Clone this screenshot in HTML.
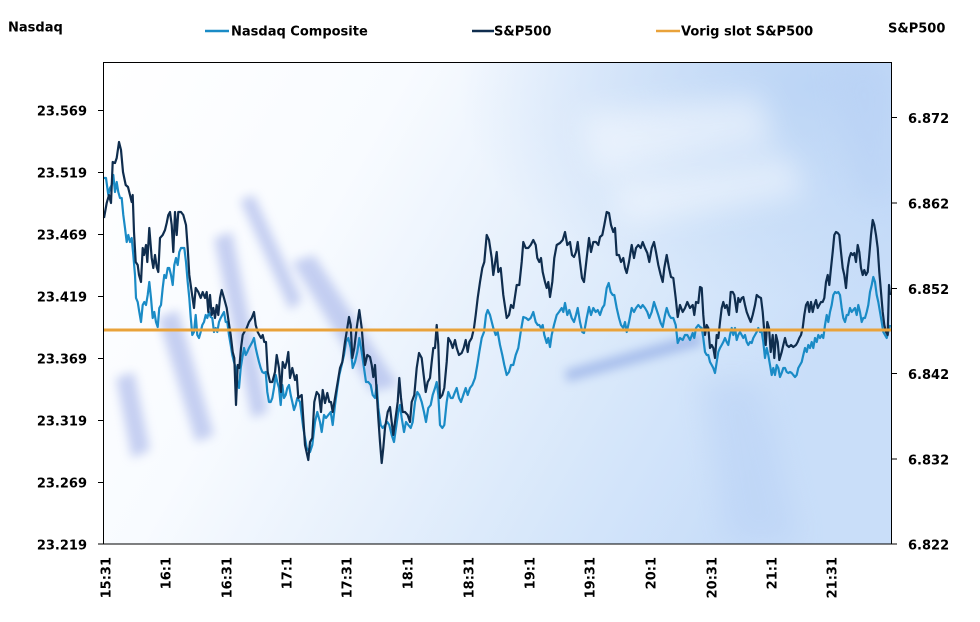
<!DOCTYPE html>
<html><head><meta charset="utf-8"><style>
html,body{margin:0;padding:0;background:#fff;}
svg{display:block;}
text{font-family:"DejaVu Sans","Liberation Sans",sans-serif;font-weight:bold;font-size:13px;fill:#000;}
</style></head><body>
<svg width="980" height="622" viewBox="0 0 980 622" xmlns="http://www.w3.org/2000/svg">
<defs>
<linearGradient id="bg" x1="0" y1="0" x2="1" y2="0.35">
<stop offset="0" stop-color="#ffffff"/>
<stop offset="0.35" stop-color="#f8fbff"/>
<stop offset="0.6" stop-color="#e6f0fc"/>
<stop offset="0.82" stop-color="#d5e6fa"/>
<stop offset="1" stop-color="#c9def9"/>
</linearGradient>
<radialGradient id="tr" cx="0.9" cy="0.05" r="0.45">
<stop offset="0" stop-color="#b9d3f5" stop-opacity="0.9"/>
<stop offset="1" stop-color="#b9d3f5" stop-opacity="0"/>
</radialGradient>
<filter id="bl" x="-20%" y="-20%" width="140%" height="140%"><feGaussianBlur stdDeviation="5"/></filter>
<filter id="bl2" x="-30%" y="-30%" width="160%" height="160%"><feGaussianBlur stdDeviation="14"/></filter>
<clipPath id="pc"><rect x="104" y="62" width="787" height="482"/></clipPath>
</defs>
<rect width="980" height="622" fill="#fff"/>
<g clip-path="url(#pc)">
<rect x="104" y="62" width="787" height="482" fill="url(#bg)"/>
<rect x="104" y="62" width="787" height="482" fill="url(#tr)"/>
<g filter="url(#bl2)" fill="#ffffff" opacity="0.45">
<polygon points="580,115 760,95 775,145 595,175"/>
<polygon points="610,185 790,155 805,195 625,225"/>
</g>
<g filter="url(#bl)" fill="#a9b7ea" opacity="0.65">
<polygon points="116,378 134,372 150,450 132,458"/>
<polygon points="158,318 178,310 214,435 196,442"/>
<polygon points="214,238 232,232 268,412 252,418"/>
<polygon points="240,200 254,195 302,300 290,310"/>
<polygon points="292,262 314,255 398,385 372,392"/>
</g>
<g filter="url(#bl)" fill="#7f9be0" opacity="0.55">
<polygon points="565,370 700,333 702,345 567,382"/>
</g>
<g filter="url(#bl2)" fill="#b6cff4" opacity="0.45">
<polygon points="700,380 760,380 800,544 730,544"/>
<polygon points="830,62 891,62 891,200 860,200"/>
</g>
</g>
<!-- Nasdaq -->
<polyline fill="none" stroke="#1a8bc6" stroke-width="2.2" stroke-linejoin="round" points="104,178 106,178 108.3,195 110,188 111.7,185 113.3,175 115,192 116.7,182 118.3,192 120,198 121.7,198 123.3,215 125,228 126.7,242 128.3,235 130,242 131.7,238 133.3,255 135,275 136,298 137.7,302 139.3,312 141,322 142.7,305 144.3,302 146,305 147.7,295 149.3,282 151,298 152.7,318 154.3,312 156,322 157.7,327 159.3,308 161,305 162.7,288 164.3,275 166,278 167.7,268 169.3,268 171,275 172.7,285 174.3,265 176,258 177.7,265 179.3,252 181,248 182.7,248 184.3,248 186,262 187.7,282 189.3,298 190.7,317 192.3,335 194,332 195.7,315 197.3,335 199,338 200.7,332 202.3,325 204,322 205.7,315 207.3,318 209,312 210.7,317 212.3,318 214,332 215.7,328 217.3,332 219,322 220.7,318 222.3,315 224,312 225.7,322 227.3,322 229,335 230.7,345 232.3,355 234,362 235.7,368 237.3,382 239,388 240.7,368 242.3,358 244,348 245.7,355 247.3,352 249,348 250.7,345 252.3,342 254,338 255.7,348 257.3,355 259,362 260.7,368 262.3,372 264,373 265.7,372 267.3,392 269,402 270.7,402 272.3,398 274,388 275.7,375 277.3,382 279,388 280.7,405 282.3,385 284,398 285.7,395 287.3,388 289,385 290.7,395 292.3,402 294,410 295.7,405 297.3,398 300,402 303.3,428 306.7,448 310,452 312.3,445 315,422 317.3,412 320,422 321.7,432 324,415 326,418 328.3,415 330.7,412 332.7,425 335,405 337.3,388 339.3,375 341.7,365 344,355 346,342 348.3,338 350.7,348 352.7,368 355,362 357.3,352 359.3,338 361.7,352 364,368 366,382 368.3,382 370.7,385 372.7,395 375,398 376.7,385 378.3,408 380.7,425 382.7,428 385,425 387.3,422 389.3,425 391.7,435 394,442 396,428 398.3,412 400,405 401.7,418 404,432 406,422 408.3,425 410.7,428 412.7,422 415,402 417.3,392 419.3,395 421.7,402 424,412 426,422 428.3,408 430.7,405 432.7,395 435,388 436.7,382 438.3,395 440,425 442.3,428 444.3,425 446.7,402 448.3,392 450.7,398 452.7,398 455,392 456.7,388 459,398 461,402 463.3,395 465.7,388 467.7,395 470,388 472.3,385 475,378 477.3,365 479.3,352 481.7,338 484,332 486,315 487.7,310 490,315 493.3,328 495.7,335 497.7,332 500,345 502.3,355 504.3,365 506.7,375 509,372 511,365 513.3,365 515.7,355 518.3,348 520.7,332 523.3,317 526,318 528.3,320 530.7,318 533.3,312 535.7,322 537.7,325 539.3,325 541,328 542.7,325 544.3,335 546.7,343 548.3,338 550,347 551.7,335 554,325 556.7,315 559,312 561.7,308 563.3,312 565,303 567.3,315 569.3,310 571.7,318 574,322 576,315 577.7,308 580,322 582.3,332 584,333 586.7,318 589,307 591,315 593.3,308 595.7,312 597.7,310 600,315 602.3,308 604.3,305 606.7,288 608.7,283 610.7,292 612.7,295 614.3,295 616.7,308 619,318 621,325 623.3,328 625,322 626.7,332 629,322 631.7,308 634,312 636,308 638.3,305 640.7,308 642.7,305 645,308 647.3,312 649.3,318 651.7,312 654,302 656,308 658.3,315 660.7,323 662.7,327 665,315 666.7,308 669,315 671,318 673.3,318 675.7,325 677.7,343 680,338 682.7,340 685,335 687.3,335 690,340 692.7,333 694.3,338 696,328 698.3,325 700,327 701.7,328 703.3,338 705,352 706.7,355 708.3,355 710,362 711.7,365 713.3,368 715,373 716.7,362 718.3,352 720,348 721.7,345 723.3,342 725,338 726.7,342 728.3,345 730,335 731.7,328 733.3,335 735,328 736.7,340 738.3,335 740,332 741.7,335 743.3,338 745,335 746.7,342 748.3,345 750,342 751.7,343 753.3,338 755,335 756.7,332 758.3,328 760,332 761.7,332 763.3,342 765,358 766.7,348 768.3,355 770,365 771.7,375 773.3,368 775,375 776.7,365 778.3,368 780,377 781.7,373 783.3,368 785,368 786.7,372 788.3,373 790,372 791.7,373 793.3,375 795,377 796.7,375 798.3,368 800,365 801.7,362 803.3,355 805,348 806.7,352 808.3,345 810,348 811.7,342 813.3,348 815,338 816.7,342 818.3,335 820,338 821.7,335 823.3,338 825,325 826.7,315 828.3,322 830,312 831.7,305 833.3,295 835,292 836.7,293 838.3,292 840,295 841.7,308 843.3,318 845,322 846.7,315 848.3,315 850,308 851.7,312 853.3,310 855,308 856.7,315 858.3,305 860,312 861.7,322 863.3,318 865,318 866.7,312 868.3,305 870,292 871.7,285 873.3,277 875,282 876.7,295 878.3,302 880,312 881.7,322 883.3,332 885,335 886.7,338 888.3,332 890,325"/>
<!-- S&P500 -->
<polyline fill="none" stroke="#0f2d4e" stroke-width="2.2" stroke-linejoin="round" points="104,218 106.7,203 109,195 111,203 112.7,162 115,163 116.7,158 119,142 121,150 123,172 125.7,185 128,187 130,195 131.7,202 132.7,195 134,232 135.7,262 137.7,265 139,275 141,282 142.7,248 144,255 146,245 147.3,262 149.3,228 151.7,258 153.3,268 155,255 156.7,267 158.3,272 160,238 162.7,235 165,230 166.7,223 168.3,215 170,212 171.7,225 173.3,252 175,212 176.7,235 178.3,212 181,212 183.3,215 186,225 187.7,248 189.3,275 191.7,292 194,308 195.7,288 198.3,292 200.7,298 202.7,292 205,298 206.7,292 208.3,312 210,295 211.7,315 213.3,308 215,318 216.7,305 218.3,315 220,298 221.7,290 224,298 226.7,308 228.7,322 230.7,335 232.7,352 234.3,358 236,405 237.7,365 239.3,368 241,348 242.7,335 244.3,332 246.7,328 249,322 251.7,318 254,312 255.7,325 257.7,332 259.3,335 261,338 262.7,335 264.3,342 266,342 267.7,372 270,382 272.3,382 275,372 276.7,355 279,368 281,392 282.7,362 285,368 286.7,362 288.3,352 290,378 292.3,368 295,380 296.7,375 298.3,398 301.7,395 305,445 308.3,460 310,442 312.3,438 314.3,402 316.7,392 319,395 321,412 322.7,390 325,403 327.3,393 329.3,402 331,402 332.7,412 335,398 337.7,382 340,368 342.3,362 345,342 347.3,328 349,317 350.7,325 352.3,358 354.3,348 356.7,328 359.3,310 361.7,328 363.3,348 365,365 367.3,355 370,357 371.7,365 373.3,377 375,365 376.7,392 378.3,418 380,442 381.7,463 383.3,448 385,428 387.7,412 390,407 391.7,422 393.3,435 395,422 397.7,402 399.3,378 401,398 402.7,412 405,412 407.7,415 410,422 411.7,402 414.3,395 416.7,368 419,353 421.7,358 423.3,372 425.7,392 427.7,382 430,378 431.7,362 433.3,348 435,348 436.7,325 438.3,345 440,398 442.3,395 444.3,388 446.7,362 448.3,338 450.7,342 452.7,348 455,340 456.7,348 459,355 461.7,353 463.7,348 465.7,340 467.7,352 469.3,342 471.7,338 474,328 475.7,315 477.7,298 480,282 482.3,268 484.3,262 486.7,235 489,240 491.7,258 493.3,275 496.7,252 498.3,272 500.7,268 503.3,295 506.7,318 509,315 511,305 513.3,308 516.7,285 519.3,285 521.7,262 523.3,242 525.7,248 528.3,248 530.7,245 533.3,240 535.7,245 537.3,258 539.3,262 541,258 542.7,272 545,282 546.7,288 548.3,282 550,297 552.3,282 554.3,258 556.7,245 560,243 562.7,240 565,232 567.3,245 570,242 572,255 574,257 576,252 577.7,242 580,262 582,278 584,282 586.7,258 589,238 591,252 593.3,242 596,242 598.3,245 600,237 602.3,235 604.3,225 606.7,212 609,213 611,225 613.3,232 615,228 616.7,255 619,255 621,262 623.3,258 625,268 626.7,273 629,262 631.7,245 634,258 636,248 638.3,245 640.7,248 642.7,242 645,248 647.3,253 649.3,262 651.7,248 654,242 656,252 658.3,265 660.7,275 662.7,282 664.3,268 666.7,255 669,268 671,277 673.3,278 675.7,298 677.7,317 680,305 682.7,312 685,308 687.3,302 690,308 692.7,305 694.3,315 696,302 698.3,303 700,287 701.7,288 703.3,315 705,335 706.7,325 708.3,328 710,348 711.7,345 713.3,348 715,358 716.7,335 718.3,338 720,322 721.7,308 723.3,302 725,308 726.7,305 729,315 730.7,292 732.7,292 734.3,295 736.7,312 738.3,298 740,302 741.7,298 743.3,297 745,305 746.7,312 749,318 750.7,322 752.7,315 755,305 756.7,295 759,297 761,298 762.7,312 764,328 765.7,345 767.3,322 769,328 770.7,352 772.7,335 774.3,358 776,335 777.7,342 779.3,360 781.7,352 783.3,345 785,338 786.7,345 789,347 791,345 793.3,347 796,345 797.7,342 799.3,338 801,335 802.7,328 804.3,315 806,305 807.7,302 809.3,312 811,302 812.7,312 814.3,305 816,300 817.7,308 819.3,305 821,302 822.7,302 824.3,298 826,282 827.7,275 829.3,285 831,268 832.7,252 834.3,235 836,232 837.7,233 839.3,235 841,252 842.7,268 844.3,275 846,288 847.7,268 849.3,258 851,253 852.7,255 854.3,253 856,262 857.7,245 859.3,252 861,268 862.7,275 864.3,270 866,275 867.7,272 869.3,255 871,235 872.7,220 874.3,225 876,235 877.7,248 879.3,272 881,292 882.7,312 884.3,325 886,332 887.7,335 889,285 890,295"/>
<!-- Vorig slot -->
<line x1="104" y1="330" x2="891" y2="330" stroke="#e9a23a" stroke-width="3"/>
<!-- frame -->
<rect x="103.5" y="62.5" width="788" height="481.5" fill="none" stroke="#000" stroke-width="1"/>
<g stroke="#000" stroke-width="1">
<line x1="98" y1="110.5" x2="104" y2="110.5"/>
<line x1="98" y1="172.5" x2="104" y2="172.5"/>
<line x1="98" y1="234.5" x2="104" y2="234.5"/>
<line x1="98" y1="296.5" x2="104" y2="296.5"/>
<line x1="98" y1="358.5" x2="104" y2="358.5"/>
<line x1="98" y1="420.5" x2="104" y2="420.5"/>
<line x1="98" y1="482.5" x2="104" y2="482.5"/>
<line x1="98" y1="544" x2="104" y2="544"/>
<line x1="891" y1="117.5" x2="897" y2="117.5"/>
<line x1="891" y1="203" x2="897" y2="203"/>
<line x1="891" y1="288.5" x2="897" y2="288.5"/>
<line x1="891" y1="373.5" x2="897" y2="373.5"/>
<line x1="891" y1="459" x2="897" y2="459"/>
<line x1="891" y1="544" x2="897" y2="544"/>
</g>
<!-- left labels -->
<g text-anchor="end">
<text x="87" y="115.5">23.569</text>
<text x="87" y="177.5">23.519</text>
<text x="87" y="239.5">23.469</text>
<text x="87" y="301.5">23.419</text>
<text x="87" y="363.5">23.369</text>
<text x="87" y="425.5">23.319</text>
<text x="87" y="487.5">23.269</text>
<text x="87" y="549.5">23.219</text>
</g>
<g>
<text x="908" y="123">6.872</text>
<text x="908" y="208.5">6.862</text>
<text x="908" y="294">6.852</text>
<text x="908" y="379">6.842</text>
<text x="908" y="464.5">6.832</text>
<text x="908" y="549.5">6.822</text>
</g>
<!-- x labels -->
<g text-anchor="end">
<text transform="translate(110.5,557) rotate(-90)">15:31</text>
<text transform="translate(170.5,557) rotate(-90)">16:1</text>
<text transform="translate(231.5,557) rotate(-90)">16:31</text>
<text transform="translate(291.5,557) rotate(-90)">17:1</text>
<text transform="translate(351.5,557) rotate(-90)">17:31</text>
<text transform="translate(412.5,557) rotate(-90)">18:1</text>
<text transform="translate(473.5,557) rotate(-90)">18:31</text>
<text transform="translate(534.5,557) rotate(-90)">19:1</text>
<text transform="translate(594.5,557) rotate(-90)">19:31</text>
<text transform="translate(655.5,557) rotate(-90)">20:1</text>
<text transform="translate(716.5,557) rotate(-90)">20:31</text>
<text transform="translate(776.5,557) rotate(-90)">21:1</text>
<text transform="translate(836.5,557) rotate(-90)">21:31</text>
</g>
<!-- titles -->
<text x="8" y="31.5">Nasdaq</text>
<text x="888" y="32.5">S&amp;P500</text>
<!-- legend -->
<line x1="205" y1="31" x2="229" y2="31" stroke="#1a8bc6" stroke-width="2.5"/>
<text x="231" y="35.5">Nasdaq Composite</text>
<line x1="472" y1="31" x2="494" y2="31" stroke="#0f2d4e" stroke-width="2.5"/>
<text x="494" y="35.5">S&amp;P500</text>
<line x1="656" y1="31" x2="680" y2="31" stroke="#e9a23a" stroke-width="2.5"/>
<text x="681" y="35.5">Vorig slot S&amp;P500</text>
</svg>
</body></html>
